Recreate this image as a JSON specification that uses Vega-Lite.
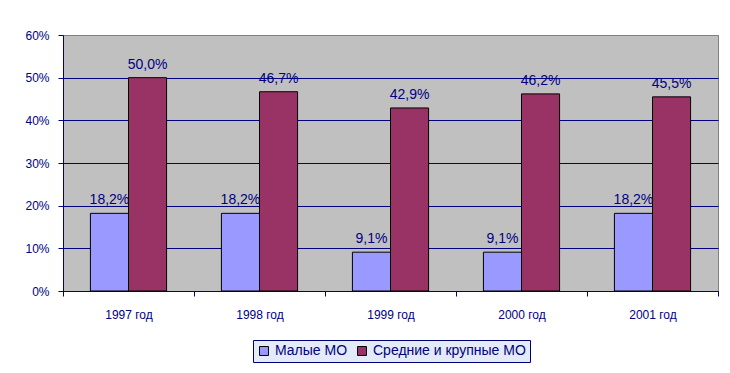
{
  "$schema": "https://vega.github.io/schema/vega-lite/v6.json",
  "width": 655,
  "height": 256,
  "autosize": "none",
  "padding": {"left": 63, "top": 35, "right": 12, "bottom": 82},
  "background": "white",
  "config": {
    "locale": {"number": {"decimal": ",", "thousands": " ", "grouping": [3], "currency": ["", " ₽"]}},
    "view": {"fill": "#C0C0C0", "stroke": "#808080", "strokeWidth": 1},
    "font": "Liberation Sans"
  },
  "data": {
    "values": [
      {"year": "1997 год", "group": "Малые МО", "value": 0.182},
      {"year": "1997 год", "group": "Средние и крупные МО", "value": 0.500},
      {"year": "1998 год", "group": "Малые МО", "value": 0.182},
      {"year": "1998 год", "group": "Средние и крупные МО", "value": 0.467},
      {"year": "1999 год", "group": "Малые МО", "value": 0.091},
      {"year": "1999 год", "group": "Средние и крупные МО", "value": 0.429},
      {"year": "2000 год", "group": "Малые МО", "value": 0.091},
      {"year": "2000 год", "group": "Средние и крупные МО", "value": 0.462},
      {"year": "2001 год", "group": "Малые МО", "value": 0.182},
      {"year": "2001 год", "group": "Средние и крупные МО", "value": 0.455}
    ]
  },
  "encoding": {
    "x": {
      "field": "year", "type": "nominal", "sort": null,
      "scale": {"paddingInner": 0, "paddingOuter": 0},
      "axis": {
        "title": null, "labelAngle": 0, "tickBand": "extent",
        "domainColor": "#000080", "tickColor": "#000080", "tickSize": 5,
        "labelColor": "#000080", "labelFontSize": 12, "labelPadding": 13
      }
    },
    "xOffset": {
      "field": "group", "type": "nominal", "sort": ["Малые МО", "Средние и крупные МО"],
      "scale": {"paddingInner": 0, "paddingOuter": 0.72}
    },
    "y": {
      "field": "value", "type": "quantitative",
      "scale": {"domain": [0, 0.6]},
      "axis": {
        "title": null, "values": [0, 0.1, 0.2, 0.3, 0.4, 0.5, 0.6], "format": ".0%",
        "grid": true,
        "gridColor": {"condition": {"test": "datum.value >= 0.59", "value": "#808080"}, "value": "#000080"},
        "gridOpacity": 1, "gridWidth": 1,
        "domainColor": "#000080", "tickColor": "#000080", "tickSize": 5,
        "labelColor": "#000080", "labelFontSize": 12, "labelPadding": 9
      }
    }
  },
  "layer": [
    {
      "mark": {"type": "bar", "stroke": "black", "strokeWidth": 1},
      "encoding": {
        "color": {
          "field": "group", "type": "nominal",
          "scale": {"domain": ["Малые МО", "Средние и крупные МО"], "range": ["#9999FF", "#993366"]},
          "legend": {
            "title": null, "orient": "none", "legendX": 190, "legendY": 305,
            "direction": "horizontal",
            "fillColor": "#E3EAF8", "strokeColor": "#000080",
            "padding": 4, "symbolType": "square", "symbolSize": 80,
            "symbolStrokeColor": "black", "symbolStrokeWidth": 1,
            "labelFontSize": 14, "labelColor": "#000080",
            "columnPadding": 7, "labelOffset": 4
          }
        }
      }
    },
    {
      "mark": {"type": "text", "dy": -9, "baseline": "alphabetic", "fontSize": 14, "color": "#000080"},
      "encoding": {
        "text": {"field": "value", "type": "quantitative", "format": ".1%"}
      }
    }
  ]
}
